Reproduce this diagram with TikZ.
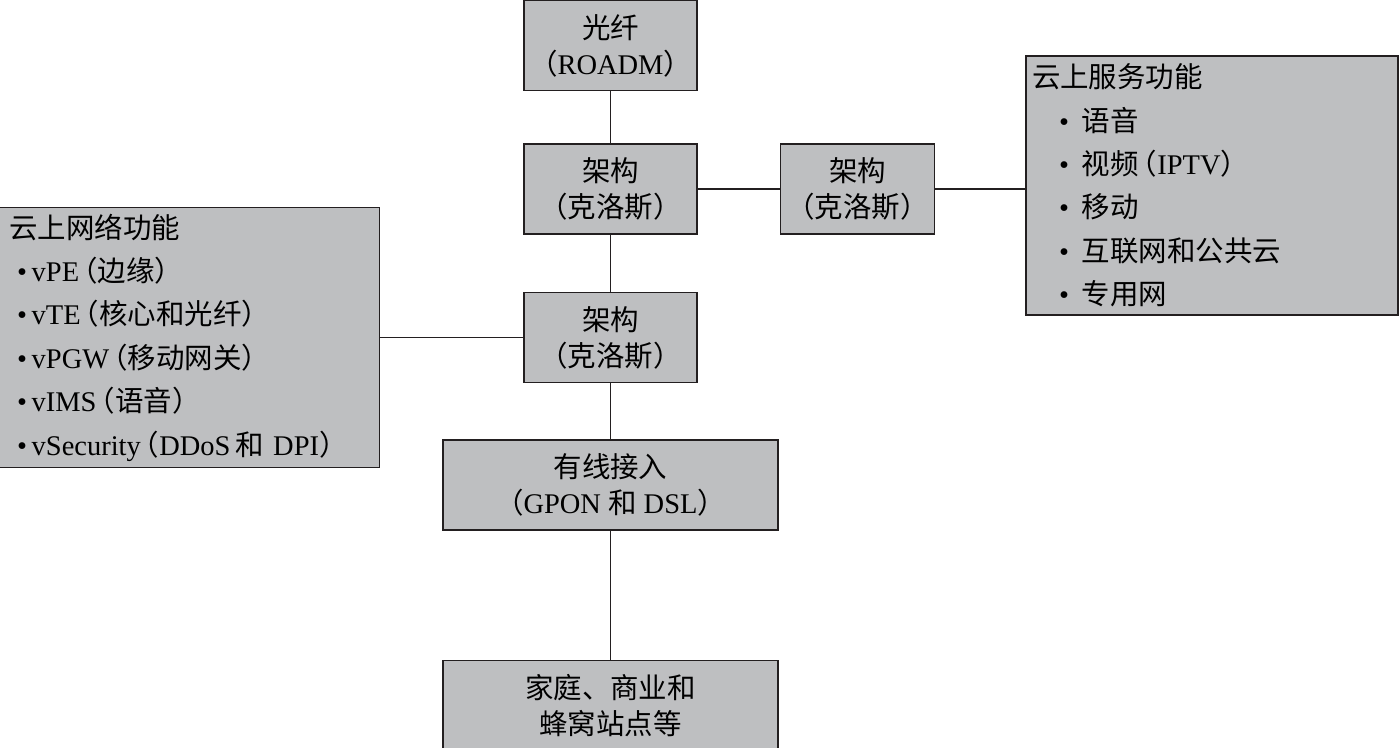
\documentclass[tikz,border=0pt]{standalone}
\usepackage{fontspec}
\setmainfont{Liberation Serif}
\newfontfamily\cjk{Noto Sans CJK SC}
\newcommand{\zh}[1]{{\cjk #1}}
\newcommand{\lpar}{\kern-0.35em\zh{（}}
\usetikzlibrary{positioning}
\definecolor{boxgray}{HTML}{BEBFC1}
\definecolor{lineblack}{HTML}{231F20}
\tikzset{
  box/.style={rectangle, draw=lineblack, fill=boxgray, line width=0.85pt, minimum height=1.8cm,
              minimum width=3.46cm, align=center, inner sep=0pt, font=\fontsize{16.2}{20.5}\selectfont},
  listbox/.style={rectangle, draw=lineblack, fill=boxgray, line width=0.85pt, align=left,
                  text width=7.2cm, inner ysep=0pt, font=\fontsize{16.2}{24.7}\selectfont},
  link/.style={draw=lineblack, line width=0.8pt}
}
\begin{document}
\begin{tikzpicture}[node distance=1.1cm]
  \useasboundingbox (0,0) rectangle (28,-14.96);
  \node[box] (arch1) at (12.21,-3.78) {\zh{架构}\\\zh{（克洛斯）}};
  \node[box, above=1.04cm of arch1] (fiber) {\zh{光纤}\\\zh{（}ROADM\zh{）}};
  \node[box, below=1.14cm of arch1] (arch3) {\zh{架构}\\\zh{（克洛斯）}};
  \node[box, minimum width=6.7cm, below=1.12cm of arch3] (wired) {\zh{有线接入}\\\zh{（}GPON \zh{和} DSL\zh{）}};
  \node[box, minimum width=6.7cm, below=2.58cm of wired] (home) {\zh{家庭、商业和}\\\zh{蜂窝站点等}};
  \node[box, minimum width=3.08cm, right=1.64cm of arch1] (arch2) {\zh{架构}\\\zh{（克洛斯）}};
  \node[listbox, inner xsep=0.12cm, minimum height=5.18cm, right=1.8cm of arch2, yshift=0.07cm] (svcfn)
    {\zh{云上服务功能}\\
     \hspace*{0.54cm}\textbullet\hspace{0.26cm}\zh{语音}\\
     \hspace*{0.54cm}\textbullet\hspace{0.26cm}\zh{视频}\lpar IPTV\zh{）}\\
     \hspace*{0.54cm}\textbullet\hspace{0.26cm}\zh{移动}\\
     \hspace*{0.54cm}\textbullet\hspace{0.26cm}\zh{互联网和公共云}\\
     \hspace*{0.54cm}\textbullet\hspace{0.26cm}\zh{专用网}};
  \node[listbox, inner xsep=0.2cm, minimum height=5.2cm, left=2.86cm of arch3] (netfn)
    {\zh{云上网络功能}\\
     \hspace*{0.15cm}\textbullet\,vPE\lpar\zh{边缘）}\\
     \hspace*{0.15cm}\textbullet\,vTE\lpar\zh{核心和光纤）}\\
     \hspace*{0.15cm}\textbullet\,vPGW\lpar\zh{移动网关）}\\
     \hspace*{0.15cm}\textbullet\,vIMS\lpar\zh{语音）}\\
     \hspace*{0.15cm}\textbullet\,vSecurity\lpar DDoS\,\zh{和} DPI\zh{）}};
  \draw[link] (fiber)--(arch1); \draw[link] (arch1)--(arch3);
  \draw[link] (arch3)--(wired); \draw[link] (wired)--(home);
  \draw[link] (arch1.east)--(arch2.west);
  \draw[link] (arch2.east)--(arch2.east -| svcfn.west);
  \draw[link] (netfn.east |- arch3.west)--(arch3.west);
\end{tikzpicture}
\end{document}
